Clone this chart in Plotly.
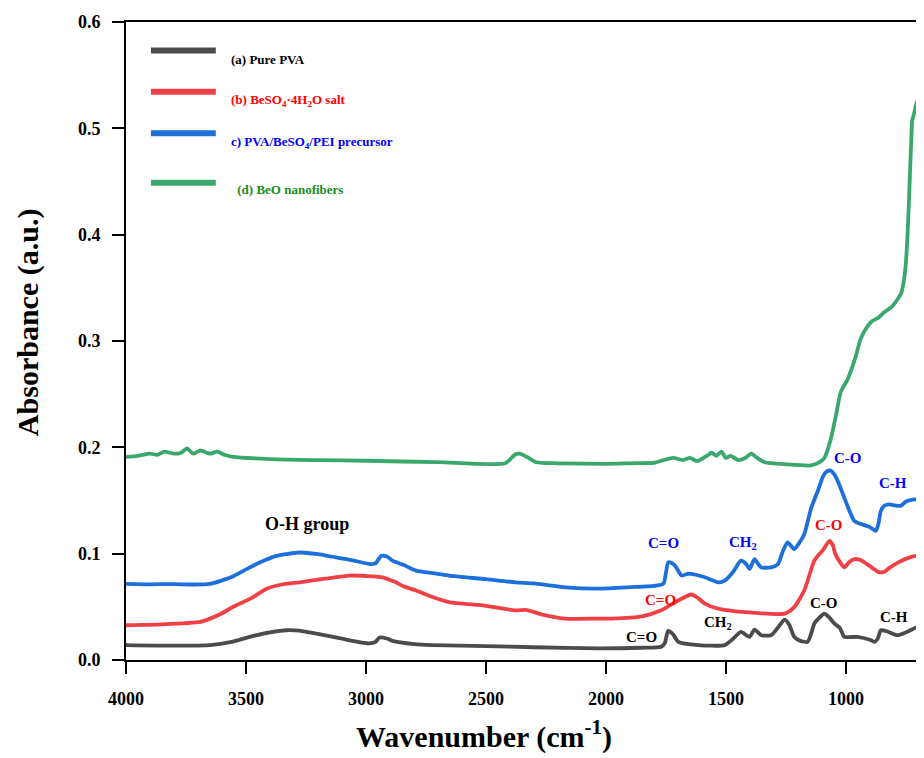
import plotly.graph_objects as go

# ---------------- data ----------------
wn_a = [4000, 3800, 3650, 3560, 3484, 3400, 3331, 3260, 3207, 3100, 2986, 2960, 2944, 2910, 2890, 2800, 2724,
        2500, 2300, 2032, 1850, 1770, 1755, 1741, 1720, 1699, 1616, 1505, 1470, 1438, 1402, 1381, 1353, 1312,
        1285, 1256, 1236, 1216, 1190, 1160, 1145, 1132, 1110, 1090, 1070, 1048, 1025, 1007, 953, 900, 882,
        868, 855, 830, 786, 750, 704, 700]
abs_a = [0.014, 0.0135, 0.014, 0.017, 0.0218, 0.026, 0.028, 0.027, 0.0249, 0.020, 0.0156, 0.017, 0.0212, 0.020,
         0.018, 0.015, 0.014, 0.013, 0.012, 0.0109, 0.0115, 0.0124, 0.016, 0.0274, 0.024, 0.0171, 0.014, 0.014,
         0.020, 0.0264, 0.0218, 0.0286, 0.0233, 0.0233, 0.030, 0.038, 0.033, 0.0218, 0.018, 0.0171, 0.025,
         0.0342, 0.040, 0.0436, 0.040, 0.0342, 0.030, 0.0218, 0.0218, 0.019, 0.0171, 0.020, 0.028, 0.027,
         0.0233, 0.026, 0.031, 0.031]

wn_b = [4000, 3850, 3691, 3650, 3600, 3555, 3480, 3414, 3350, 3276, 3170, 3069, 3000, 2932, 2880, 2840, 2791,
        2720, 2654, 2500, 2377, 2330, 2270, 2169, 2032, 1976, 1850, 1770, 1699, 1644, 1615, 1588, 1533, 1422,
        1256, 1215, 1174, 1132, 1110, 1098, 1069, 1055, 1045, 1025, 1007, 985, 965, 940, 911, 880, 862, 840,
        816, 780, 740, 704, 700]
abs_b = [0.0327, 0.0335, 0.0358, 0.0389, 0.044, 0.0498, 0.058, 0.067, 0.071, 0.0731, 0.0765, 0.0794, 0.079,
         0.0778, 0.0735, 0.069, 0.0654, 0.059, 0.0545, 0.051, 0.0467, 0.047, 0.043, 0.0389, 0.0389, 0.0389,
         0.041, 0.0467, 0.056, 0.0616, 0.058, 0.053, 0.0483, 0.045, 0.0436, 0.050, 0.0654, 0.0934, 0.100,
         0.1027, 0.112, 0.108, 0.100, 0.092, 0.0871, 0.0925, 0.0949, 0.094, 0.090, 0.085, 0.0825, 0.083,
         0.0871, 0.092, 0.096, 0.098, 0.098]

wn_c = [4000, 3900, 3800, 3720, 3650, 3560, 3484, 3420, 3372, 3276, 3200, 3139, 3060, 2986, 2960, 2936, 2910,
        2890, 2840, 2791, 2700, 2654, 2500, 2377, 2300, 2169, 2032, 1900, 1790, 1760, 1741, 1725, 1712, 1685,
        1660, 1644, 1588, 1533, 1505, 1470, 1438, 1415, 1402, 1381, 1365, 1353, 1312, 1284, 1262, 1243, 1216,
        1195, 1174, 1145, 1118, 1095, 1080, 1063, 1048, 1030, 1007, 985, 965, 939, 900, 876, 865, 855, 840,
        819, 800, 772, 750, 715, 700]
abs_c = [0.0716, 0.0712, 0.0714, 0.0710, 0.0716, 0.078, 0.0871, 0.094, 0.098, 0.1011, 0.0995, 0.0971, 0.094,
         0.0903, 0.091, 0.098, 0.097, 0.0934, 0.089, 0.084, 0.081, 0.0794, 0.076, 0.0731, 0.072, 0.0684,
         0.0672, 0.0685, 0.070, 0.072, 0.0918, 0.091, 0.0887, 0.0794, 0.081, 0.081, 0.0778, 0.0731, 0.0746,
         0.083, 0.0934, 0.090, 0.0856, 0.0949, 0.090, 0.0871, 0.0871, 0.090, 0.103, 0.1105, 0.1043, 0.110,
         0.1183, 0.143, 0.1587, 0.173, 0.1774, 0.178, 0.1743, 0.166, 0.1525, 0.140, 0.1307, 0.128, 0.125,
         0.1214, 0.128, 0.140, 0.145, 0.1463, 0.1455, 0.145, 0.149, 0.151, 0.151]

wn_d = [4000, 3950, 3900, 3870, 3840, 3800, 3770, 3746, 3720, 3690, 3650, 3620, 3590, 3555, 3400, 3200, 3000,
        2700, 2420, 2380, 2360, 2330, 2290, 2200, 2000, 1900, 1800, 1760, 1720, 1680, 1650, 1620, 1580, 1560,
        1540, 1520, 1500, 1480, 1450, 1420, 1395, 1370, 1339, 1250, 1145, 1110, 1090, 1063, 1040, 1022, 993,
        960, 939, 910, 889, 865, 841, 810, 786, 770, 758, 750, 744, 738, 733, 728, 724, 715, 707, 700]
abs_d = [0.191, 0.192, 0.194, 0.193, 0.196, 0.194, 0.195, 0.199, 0.194, 0.197, 0.194, 0.196, 0.193, 0.191,
         0.189, 0.188, 0.1874, 0.186, 0.185, 0.193, 0.194, 0.191, 0.186, 0.185, 0.1845, 0.185, 0.1855, 0.188,
         0.190, 0.188, 0.190, 0.187, 0.192, 0.195, 0.192, 0.196, 0.190, 0.192, 0.188, 0.190, 0.194, 0.190,
         0.186, 0.184, 0.183, 0.186, 0.190, 0.208, 0.232, 0.252, 0.264, 0.285, 0.302, 0.314, 0.319, 0.322,
         0.327, 0.332, 0.339, 0.345, 0.358, 0.375, 0.398, 0.430, 0.460, 0.490, 0.507, 0.515, 0.523, 0.527]

series_names = ["(a) Pure PVA",
                "(b) BeSO<sub>4</sub>·4H<sub>2</sub>O salt",
                "c) PVA/BeSO<sub>4</sub>/PEI precursor",
                " (d) BeO nanofibers"]
line_colors = ["#4b4b4b", "#ef4046", "#1d6fdc", "#3aa86c"]
text_colors = ["#000000", "#ff0000", "#0000ff", "#1a8c1a"]

x_ticks = [4000, 3500, 3000, 2500, 2000, 1500, 1000]
y_ticks = [0.0, 0.1, 0.2, 0.3, 0.4, 0.5, 0.6]

# peak labels: (text, wavenumber, absorbance, colour, size)
peak_labels = [
    ("O-H group", 3247, 0.128, "#000000", 18),
    ("C=O", 1761, 0.110, "#0000ff", 15),
    ("CH<sub>2</sub>", 1429, 0.110, "#0000ff", 15),
    ("C-O", 993, 0.190, "#0000ff", 15),
    ("C-H", 806, 0.166, "#0000ff", 15),
    ("C-O", 1069, 0.127, "#ff0000", 15),
    ("C=O", 1774, 0.056, "#ff0000", 15),
    ("C=O", 1852, 0.0215, "#000000", 15),
    ("CH<sub>2</sub>", 1533, 0.0345, "#000000", 15),
    ("C-O", 1090, 0.0535, "#000000", 15),
    ("C-H", 802, 0.040, "#000000", 15),
]

FONT = "Liberation Serif, Times New Roman, serif"

fig = go.Figure()
for xs, ys, name, col in zip([wn_a, wn_b, wn_c, wn_d], [abs_a, abs_b, abs_c, abs_d], series_names, line_colors):
    fig.add_trace(go.Scatter(x=xs, y=ys, mode="lines", name=name,
                             line=dict(color=col, width=3.8, shape="spline", smoothing=0.6),
                             showlegend=False))

# manual legend (lines + texts in paper coordinates)
leg_line_y = [0.9554, 0.8907, 0.8258, 0.748]
leg_text_y = [0.942, 0.8767, 0.8118, 0.7367]
leg_text_x = [0.1297, 0.1297, 0.1297, 0.1335]
for i in range(4):
    fig.add_shape(type="line", xref="paper", yref="paper", x0=0.0315, x1=0.1134,
                  y0=leg_line_y[i], y1=leg_line_y[i],
                  line=dict(color=line_colors[i], width=6))
    fig.add_annotation(xref="paper", yref="paper", x=leg_text_x[i], y=leg_text_y[i],
                       text="<b>" + series_names[i] + "</b>", showarrow=False,
                       xanchor="left", yanchor="middle",
                       font=dict(family=FONT, size=13, color=text_colors[i]))

for txt, x, y, col, sz in peak_labels:
    fig.add_annotation(x=x, y=y, text="<b>" + txt + "</b>", showarrow=False,
                       xanchor="center", yanchor="middle",
                       font=dict(family=FONT, size=sz, color=col))

# axis titles
fig.add_annotation(xref="paper", yref="paper", x=0.4521, y=-0.1166,
                   text="<b>Wavenumber (cm<sup>-1</sup>)</b>", showarrow=False,
                   xanchor="center", yanchor="middle",
                   font=dict(family=FONT, size=30, color="black"))
fig.add_annotation(xref="paper", yref="paper", x=-0.1234, y=0.53, textangle=-90,
                   text="<b>Absorbance (a.u.)</b>", showarrow=False,
                   xanchor="center", yanchor="middle",
                   font=dict(family=FONT, size=30, color="black"))

axis_common = dict(showgrid=False, zeroline=False, showline=True, linecolor="black", linewidth=2,
                   mirror=True, ticks="outside", ticklen=12, tickwidth=2, tickcolor="black",
                   ticklabeloverflow="allow",
                   tickfont=dict(family=FONT, size=18, color="black"))

fig.update_layout(
    width=916, height=750,
    margin=dict(l=118, r=4, t=9, b=98),
    plot_bgcolor="white", paper_bgcolor="white",
    xaxis=dict(range=[4000, 700], tickvals=x_ticks, ticktext=["<b>%d</b>" % v for v in x_ticks],
               ticklabelstandoff=9, **axis_common),
    yaxis=dict(range=[0, 0.6], tickvals=y_ticks, ticktext=["<b>%.1f</b>" % v for v in y_ticks],
               ticklabelstandoff=8, **axis_common),
)

fig.write_html("out.html")
